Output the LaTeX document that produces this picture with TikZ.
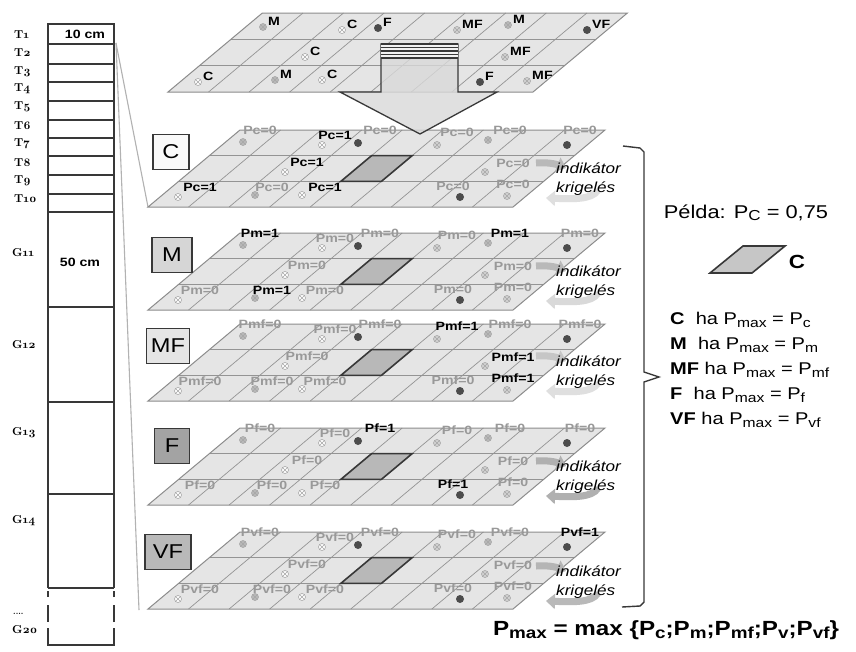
\documentclass[tikz,border=0pt]{standalone}
\usepackage{fontspec}
\usepackage{graphicx}
\setmainfont{Liberation Sans}[FakeStretch=1.18]
\newfontfamily\osf{lmroman10-bold.otf}[Numbers=OldStyle]
\usetikzlibrary{arrows.meta}
\newcommand\ssub[1]{\raisebox{-0.25ex}{\scalebox{0.78}{#1}}}
\definecolor{planefill}{gray}{0.9}
\definecolor{gridc}{gray}{0.58}
\definecolor{edgec}{gray}{0.55}
\definecolor{cellc}{gray}{0.72}
\definecolor{darkc}{gray}{0.22}
\definecolor{dotc}{gray}{0.3}
\definecolor{zeroc}{gray}{0.6}
\newcommand\drawplane[4]{%
\begin{scope}[shift={(#1,#2)}, xslant=1.1948]
 \fill[planefill] (0,0) -- (365,0) -- (365,-#3) -- (0,-#3) -- cycle;
 \foreach \k in {1,...,8} \draw[gridln] (\k*40.556,0) -- (\k*40.556,-#3);
 \draw[gridln] (0,-#3/3) -- (365,-#3/3) (0,-2*#3/3) -- (365,-2*#3/3);
 \ifnum#4=1 \filldraw[cellbox] (4*40.556,-#3/3) -- (5*40.556,-#3/3) -- (5*40.556,-2*#3/3) -- (4*40.556,-2*#3/3) -- cycle; \fi
 \draw[planeedge] (0,0) -- (365,0) -- (365,-#3) -- (0,-#3) -- cycle;
\end{scope}}
\def\ptlist{1/95/-65/17/-12/M/gray!55,
2/174/-62/13/-10/C/white,
3/210/-64/22/-13/F/D,
4/289/-62/20/-13/MF/gray!35,
5/340/-67/22/-10/M/gray!55,
6/419/-62/13/-15/VF/D,
7/137/-35/22/-10/C/white,
8/337/-35/28/-9/MF/gray!35,
9/30/-10/22/-10/C/white,
10/107/-12/17/-8/M/gray!55,
11/154/-12/23/-8/C/white,
12/312/-10/-7/-11/F/D,
13/359/-11/6/-12/MF/gray!35}
\begin{document}
\begin{tikzpicture}[x=1pt,y=-1pt,
 gridln/.style={draw=gridc, line width=0.7pt},
 planeedge/.style={draw=edgec, line width=1pt},
 cellbox/.style={fill=cellc, draw=darkc, line width=1.6pt},
 xmk/.style={circle, draw=gray!70, line width=0.6pt, minimum size=7pt, inner sep=0pt,
   path picture={\draw[gray!70, line width=0.5pt] (path picture bounding box.north west) -- (path picture bounding box.south east) (path picture bounding box.north east) -- (path picture bounding box.south west);}},
 dotmk/.style={circle, fill=dotc, minimum size=8pt, inner sep=0pt},
 lblone/.style={font=\bfseries\fontsize{12}{12}\selectfont, text=black, inner sep=0pt},
 lblzero/.style={font=\bfseries\fontsize{12}{12}\selectfont, text=zeroc, inner sep=0pt},
 toplet/.style={font=\bfseries\fontsize{12}{12}\selectfont, anchor=west, inner sep=0pt},
 lbox/.style={draw=darkc, line width=1.6pt, font=\fontsize{20}{20}\selectfont, minimum height=35pt, inner sep=0pt},
 indtxt/.style={font=\itshape\fontsize{14.5}{14.5}\selectfont, anchor=west, inner sep=0pt},
 rowlab/.style={font=\osf\fontsize{11.5}{11.5}\selectfont, anchor=west, inner sep=0pt},
 conn/.style={draw=gray!60, line width=1.1pt},
 colb/.style={draw=darkc, line width=2.4pt},
 rowl/.style={draw=darkc, line width=1.1pt},
 brace/.style={draw=darkc, line width=1.4pt},
 bigtxt/.style={font=\fontsize{17}{17}\selectfont, anchor=west, inner sep=0pt}]
\useasboundingbox (0,0) rectangle (856,651);
\fill[white] (0,0) rectangle (856,651);

% ---------- left column ----------
\foreach \yy in {44,64,82,101,120,138,156,175,194,212,307,402,494,588}
  \draw[rowl] (48,\yy) -- (114,\yy);
\draw[colb] (48,588) -- (48,24) -- (114,24) -- (114,588);
\draw[colb] (48,591) -- (48,597) (48,605) -- (48,622) (48,628) -- (48,645) -- (114,645) -- (114,628)
            (114,622) -- (114,605) (114,597) -- (114,591);
\foreach \t/\yy in {1/35,2/53,3/72,4/89,5/107,6/126,7/144,8/163,9/181,10/199}
  \node[rowlab] (T\t) at (14,\yy) {T\t};
\foreach \t/\yy in {11/253,12/345,13/433,14/521,20/630}
  \node[rowlab] (G\t) at (12,\yy) {G\t};
\node[rowlab, font=\osf\fontsize{8}{8}\selectfont] (gdots) at (13,614) {....};
\node[font=\bfseries\fontsize{12}{12}\selectfont] (t1txt) at (85,34) {10 cm};
\node[font=\bfseries\fontsize{12}{12}\selectfont] (g11txt) at (80,262) {50 cm};

\coordinate (tA) at (116,43);
\coordinate (cBL) at (148,207);
\coordinate (vBL) at (139,610);
\draw[conn] (tA) -- (cBL);
\draw[conn] (tA) -- (vBL);

% ---------- planes ----------
\drawplane{168}{92}{79}{0}
\foreach \yb in {207,310,401,505,609} { \drawplane{148}{\yb}{77}{1} }

% ---------- big arrow ----------
\filldraw[fill=gray!30, fill opacity=0.8, draw=gray!45!black, line width=1.3pt]
  (381,44) -- (458,44) -- (458,92) -- (497,92) -- (420,134) -- (340,92) -- (381,92) -- cycle;
\fill[gray!10] (381,44) rectangle (458,58);
\foreach \yy in {44,47.5,51,54.5,58} \draw[darkc, line width=1.1pt] (381,\yy) -- (458,\yy);

% ---------- top plane markers ----------
\foreach \i/\mx/\my/\lx/\ly/\cl/\fc in \ptlist {
  \if D\fc \node[dotmk] (tm\i) at (168+\mx,92+\my) {};
  \else \node[xmk, fill=\fc] (tm\i) at (168+\mx,92+\my) {}; \fi
  \node[toplet] (tl\i) at (168+\mx+5,92+\my-6) {\cl};
}

% ---------- layer markers and labels ----------
\foreach \lay/\sfx/\yb in {C/c/207,M/m/310,MF/mf/401,F/f/505,VF/vf/609} {
  \foreach \i/\mx/\my/\lx/\ly/\cl/\fc in \ptlist {
    \if D\fc \node[dotmk] (m\sfx\i) at (148+\mx,\yb+\my) {};
    \else \node[xmk, fill=\fc] (m\sfx\i) at (148+\mx,\yb+\my) {}; \fi
    \edef\tmpA{\cl}\edef\tmpB{\lay}%
    \ifx\tmpA\tmpB \node[lblone] (l\sfx\i) at (148+\mx+\lx,\yb+\my+\ly) {P\sfx=1};
    \else \node[lblzero] (l\sfx\i) at (148+\mx+\lx,\yb+\my+\ly) {P\sfx=0}; \fi
  }
}

% ---------- layer boxes ----------
\node[lbox, fill=gray!5, minimum width=36pt] (boxC) at (171,152) {C};
\node[lbox, fill=gray!32, minimum width=40pt] (boxM) at (172,255) {M};
\node[lbox, fill=gray!20, minimum width=43pt] (boxMF) at (168,346) {MF};
\node[lbox, fill=gray!72, minimum width=35pt] (boxF) at (172,446) {F};
\node[lbox, fill=gray!55, minimum width=46pt] (boxVF) at (168,552) {VF};

% ---------- indikator / krigeles ----------
\foreach \tp/\ca/\cb [count=\n] in {130/gray!55/gray!25,233/gray!55/gray!30,323/gray!45/gray!25,428/gray!62/gray!62,533/gray!58/gray!55} {
  \draw[line width=7pt, color=\ca, -{Triangle[length=9pt,width=15pt]}]
    (536,\tp+33) .. controls (546,\tp+32) and (556,\tp+34) .. (566,\tp+38);
  \draw[line width=7pt, color=\cb, -{Triangle[length=9pt,width=15pt]}]
    (598,\tp+60) .. controls (592,\tp+70) and (572,\tp+69) .. (546,\tp+68);
  \node[indtxt] (ind\n) at (556,\tp+38) {indikátor};
  \node[indtxt] (kri\n) at (556,\tp+59) {krigelés};
}

% ---------- brace ----------
\draw[brace] (623,146) -- (640,148) -- (644,152) -- (644,372) -- (659,377) -- (644,382) -- (644,602) -- (640,606) -- (622,607);

% ---------- right texts ----------
\node[font=\fontsize{18.5}{18.5}\selectfont] (pelda) at (746,213) {Példa: P\ssub{C} = 0,75};
\filldraw[fill=gray!45, draw=darkc, line width=1.6pt] (710,273) -- (752,273) -- (785,246) -- (743,246) -- cycle;
\node[font=\bfseries\fontsize{19}{19}\selectfont] (smallC) at (797,262) {C};
\node[bigtxt] (r1) at (670,320) {\textbf{C}\ \ ha P\ssub{max} = P\ssub{c}};
\node[bigtxt] (r2) at (670,345) {\textbf{M}\ \ ha P\ssub{max} = P\ssub{m}};
\node[bigtxt] (r3) at (670,370) {\textbf{MF} ha P\ssub{max} = P\ssub{mf}};
\node[bigtxt] (r4) at (670,395) {\textbf{F}\ \ ha P\ssub{max} = P\ssub{f}};
\node[bigtxt] (r5) at (670,420) {\textbf{VF} ha P\ssub{max} = P\ssub{vf}};
\node[font=\bfseries\fontsize{20.5}{20.5}\selectfont] (formula) at (666,630) {P\ssub{max} = max \{P\ssub{c};P\ssub{m};P\ssub{mf};P\ssub{v};P\ssub{vf}\}};
\end{tikzpicture}
\end{document}
